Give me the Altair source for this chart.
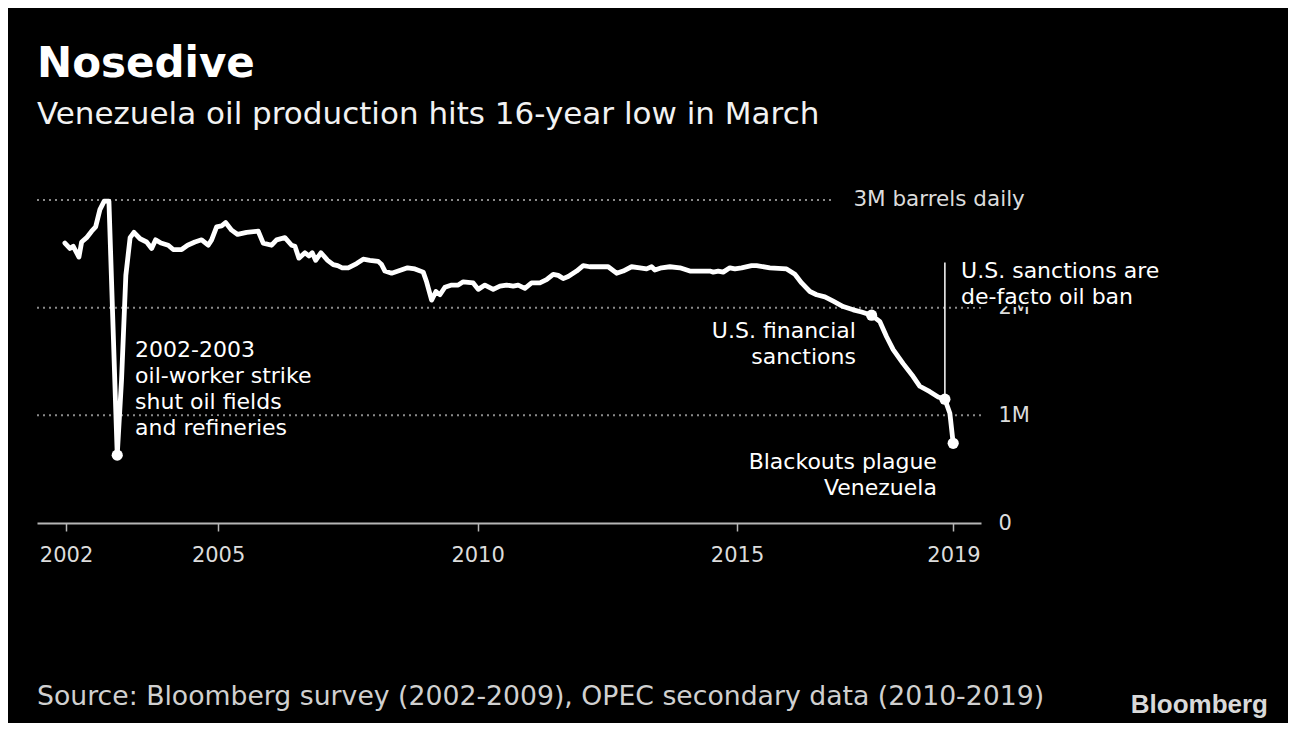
import altair as alt
import pandas as pd

# ---------------- data ----------------
years = [
    2002.048, 2002.144, 2002.208, 2002.318, 2002.370, 2002.466, 2002.563, 2002.640,
    2002.722, 2002.805, 2002.896, 2003.056, 2003.139, 2003.222, 2003.304, 2003.378,
    2003.496, 2003.622, 2003.719, 2003.796, 2003.898, 2004.039, 2004.135, 2004.297,
    2004.412, 2004.553, 2004.682, 2004.809, 2004.875, 2004.971, 2005.067, 2005.144,
    2005.260, 2005.376, 2005.549, 2005.773, 2005.869, 2006.031, 2006.127, 2006.287,
    2006.416, 2006.480, 2006.557, 2006.673, 2006.750, 2006.813, 2006.879, 2006.981,
    2007.110, 2007.218, 2007.303, 2007.391, 2007.507, 2007.669, 2007.796, 2007.925,
    2008.085, 2008.150, 2008.214, 2008.343, 2008.470, 2008.651, 2008.792, 2008.952,
    2009.017, 2009.114, 2009.197, 2009.274, 2009.370, 2009.499, 2009.626, 2009.723,
    2009.915, 2010.012, 2010.141, 2010.301, 2010.430, 2010.559, 2010.686, 2010.782,
    2010.911, 2011.040, 2011.200, 2011.329, 2011.457, 2011.553, 2011.649, 2011.746,
    2011.908, 2012.035, 2012.164, 2012.516, 2012.678, 2012.805, 2012.967, 2013.127,
    2013.256, 2013.353, 2013.416, 2013.545, 2013.705, 2013.898, 2014.091, 2014.476,
    2014.540, 2014.636, 2014.732, 2014.861, 2014.958, 2015.087, 2015.279, 2015.376,
    2015.632, 2015.954, 2016.114, 2016.243, 2016.403, 2016.532, 2016.692, 2016.852,
    2017.044, 2017.237, 2017.399, 2017.592, 2017.752, 2017.881, 2018.008, 2018.200,
    2018.393, 2018.522, 2018.714, 2018.875, 2019.004, 2019.100, 2019.164,
]
production_m = [
    2.60, 2.55, 2.57, 2.47, 2.61, 2.65, 2.71, 2.75,
    2.91, 2.99, 2.99, 0.63, 1.33, 2.30, 2.65, 2.70,
    2.64, 2.61, 2.55, 2.63, 2.60, 2.58, 2.54, 2.54,
    2.58, 2.61, 2.63, 2.58, 2.63, 2.75, 2.76, 2.79,
    2.72, 2.68, 2.70, 2.71, 2.60, 2.58, 2.63, 2.65,
    2.58, 2.57, 2.46, 2.51, 2.48, 2.51, 2.44, 2.51,
    2.44, 2.40, 2.39, 2.37, 2.37, 2.41, 2.45, 2.44,
    2.43, 2.40, 2.34, 2.32, 2.34, 2.37, 2.36, 2.33,
    2.24, 2.07, 2.15, 2.12, 2.19, 2.21, 2.21, 2.24,
    2.23, 2.17, 2.21, 2.17, 2.20, 2.21, 2.20, 2.21,
    2.18, 2.23, 2.23, 2.26, 2.31, 2.30, 2.27, 2.29,
    2.34, 2.39, 2.38, 2.38, 2.32, 2.34, 2.38, 2.37,
    2.36, 2.38, 2.35, 2.37, 2.38, 2.37, 2.34, 2.34,
    2.33, 2.34, 2.33, 2.37, 2.36, 2.37, 2.39, 2.39,
    2.37, 2.36, 2.31, 2.23, 2.15, 2.12, 2.10, 2.06,
    2.01, 1.98, 1.96, 1.93, 1.87, 1.73, 1.61, 1.48,
    1.36, 1.27, 1.22, 1.17, 1.15, 1.02, 0.74,
]

marker_years = [2003.056, 2017.592, 2019.004, 2019.164]
marker_values = [0.63, 1.93, 1.15, 0.74]

sanction_rule_year = [2019.004]
sanction_rule_from = [1.15]
sanction_rule_to = [2.42]

x_ticks = [2002.07, 2005, 2010, 2015, 2019.17]
y_ticks = [0, 1, 2]
y_tick_labels = ["0", "1M", "2M"]
grid_values = [1, 2]
top_grid_value = [3]
top_label = ["3M barrels daily"]
top_label_year = [2020.545]

ann_left_text = ["2002-2003\noil-worker strike\nshut oil fields\nand refineries",
                 "U.S. sanctions are\nde-facto oil ban"]
ann_left_year = [2003.40, 2019.317]
ann_left_value = [1.546, 2.274]

ann_right_text = ["U.S. financial\nsanctions", "Blackouts plague\nVenezuela"]
ann_right_year = [2017.29, 2018.85]
ann_right_value = [1.716, 0.505]

title_text = "Nosedive"
subtitle_text = "Venezuela oil production hits 16-year low in March"
source_text = "Source: Bloomberg survey (2002-2009), OPEC secondary data (2010-2019)"
logo_text = "Bloomberg"

# ---------------- layout ----------------
PLOT_W = 944
PLOT_H = 323
FONT = "DejaVu Sans"
AX_COLOR = "#b5b5b5"
LBL_COLOR = "#dcdcdc"

x_scale = alt.Scale(domain=[2001.51, 2019.70], nice=False, zero=False)
y_scale = alt.Scale(domain=[0, 3], nice=False, zero=True)

label_expr = " : ".join(
    f"datum.value == {v} ? '{l}'" for v, l in zip(y_ticks, y_tick_labels)
) + " : ''"

x_axis = alt.Axis(
    values=x_ticks, labelExpr="floor(datum.value)", title=None, grid=False,
    domainColor=AX_COLOR, domainWidth=2, tickColor=AX_COLOR, tickWidth=1.5,
    tickSize=8, labelPadding=13, labelFontSize=21, labelFont=FONT,
    labelColor=LBL_COLOR, labelFlush=False)
y_axis = alt.Axis(
    orient="right", values=y_ticks, labelExpr=label_expr, title=None, grid=False,
    domain=False, ticks=False, labelPadding=17, labelAlign="left",
    labelBaseline="middle", labelFontSize=21, labelFont=FONT, labelColor=LBL_COLOR)


def X():
    return alt.X("year:Q", scale=x_scale, axis=x_axis)


def Y():
    return alt.Y("value:Q", scale=y_scale, axis=y_axis)


line_df = pd.DataFrame({"year": years, "value": production_m})
marker_df = pd.DataFrame({"year": marker_years, "value": marker_values})
rule_df = pd.DataFrame({"year": sanction_rule_year, "value": sanction_rule_from,
                        "value2": sanction_rule_to})
grid_df = pd.DataFrame({"value": grid_values})
top_grid_df = pd.DataFrame({"value": top_grid_value})
top_label_df = pd.DataFrame({"year": top_label_year, "value": top_grid_value, "t": top_label})
ann_left_df = pd.DataFrame({"year": ann_left_year, "value": ann_left_value, "t": ann_left_text})
ann_right_df = pd.DataFrame({"year": ann_right_year, "value": ann_right_value, "t": ann_right_text})

grid = alt.Chart(grid_df).mark_rule(color="#8a8a8a", strokeWidth=2, strokeDash=[2, 4]).encode(
    y=Y(), x=alt.value(0), x2=alt.value(PLOT_W))
top_grid = alt.Chart(top_grid_df).mark_rule(color="#8a8a8a", strokeWidth=2, strokeDash=[2, 4]).encode(
    y=Y(), x=alt.value(0), x2=alt.value(796))

line = alt.Chart(line_df).mark_line(
    color="white", strokeWidth=4.8, strokeJoin="round", strokeCap="round"
).encode(x=X(), y=Y())

sanction_rule = alt.Chart(rule_df).mark_rule(color="white", strokeWidth=1.5).encode(
    x=X(), y=Y(), y2="value2:Q")

markers = alt.Chart(marker_df).mark_circle(size=125, color="white", opacity=1).encode(
    x=X(), y=Y())

top_lbl = alt.Chart(top_label_df).mark_text(
    align="right", baseline="middle", fontSize=21.5, font=FONT, color=LBL_COLOR
).encode(x=X(), y=Y(), text="t:N")


def ann(df, align):
    halo = alt.Chart(df).mark_text(
        align=align, baseline="alphabetic", fontSize=22, lineHeight=26, lineBreak="\n",
        font=FONT, color="black", stroke="black", strokeWidth=6, strokeJoin="round"
    ).encode(x=X(), y=Y(), text="t:N")
    txt = alt.Chart(df).mark_text(
        align=align, baseline="alphabetic", fontSize=22, lineHeight=26, lineBreak="\n",
        font=FONT, color="white"
    ).encode(x=X(), y=Y(), text="t:N")
    return [halo, txt]


def fixed_text(text, x, y, size, color, weight="normal", align="left", font=FONT):
    return alt.Chart(pd.DataFrame({"t": [text]})).mark_text(
        align=align, baseline="alphabetic", fontSize=size, font=font,
        fontWeight=weight, color=color
    ).encode(text="t:N", x=alt.value(x), y=alt.value(y))


layers = [grid, top_grid, line, sanction_rule, markers, top_lbl]
layers += ann(ann_left_df, "left")
layers += ann(ann_right_df, "right")
layers += [
    fixed_text(title_text, 0, -123, 42, "white", weight="bold"),
    fixed_text(subtitle_text, 0, -76, 31, "#f2f2f2"),
    fixed_text(source_text, 0, 505, 26.7, "#d0d0d0"),
    fixed_text(logo_text, 1231, 513, 26, "#d9d9d9", weight="bold", align="right",
               font="Liberation Sans"),
]

PAGE_CSS = ("html, body { background: #000000 !important; background-color: #000000 !important; } "
            ".vega-embed { background: #000000; }")

chart = alt.layer(*layers).properties(
    width=PLOT_W,
    height=PLOT_H,
    autosize=alt.AutoSizeParams(type="none"),
    padding={"left": 29, "top": 192, "right": 307, "bottom": 200},
    background="black",
    usermeta={"embedOptions": {"defaultStyle": PAGE_CSS}},
).configure_view(stroke=None)

chart.save("out.html", embed_options={"renderer": "svg", "actions": False})
